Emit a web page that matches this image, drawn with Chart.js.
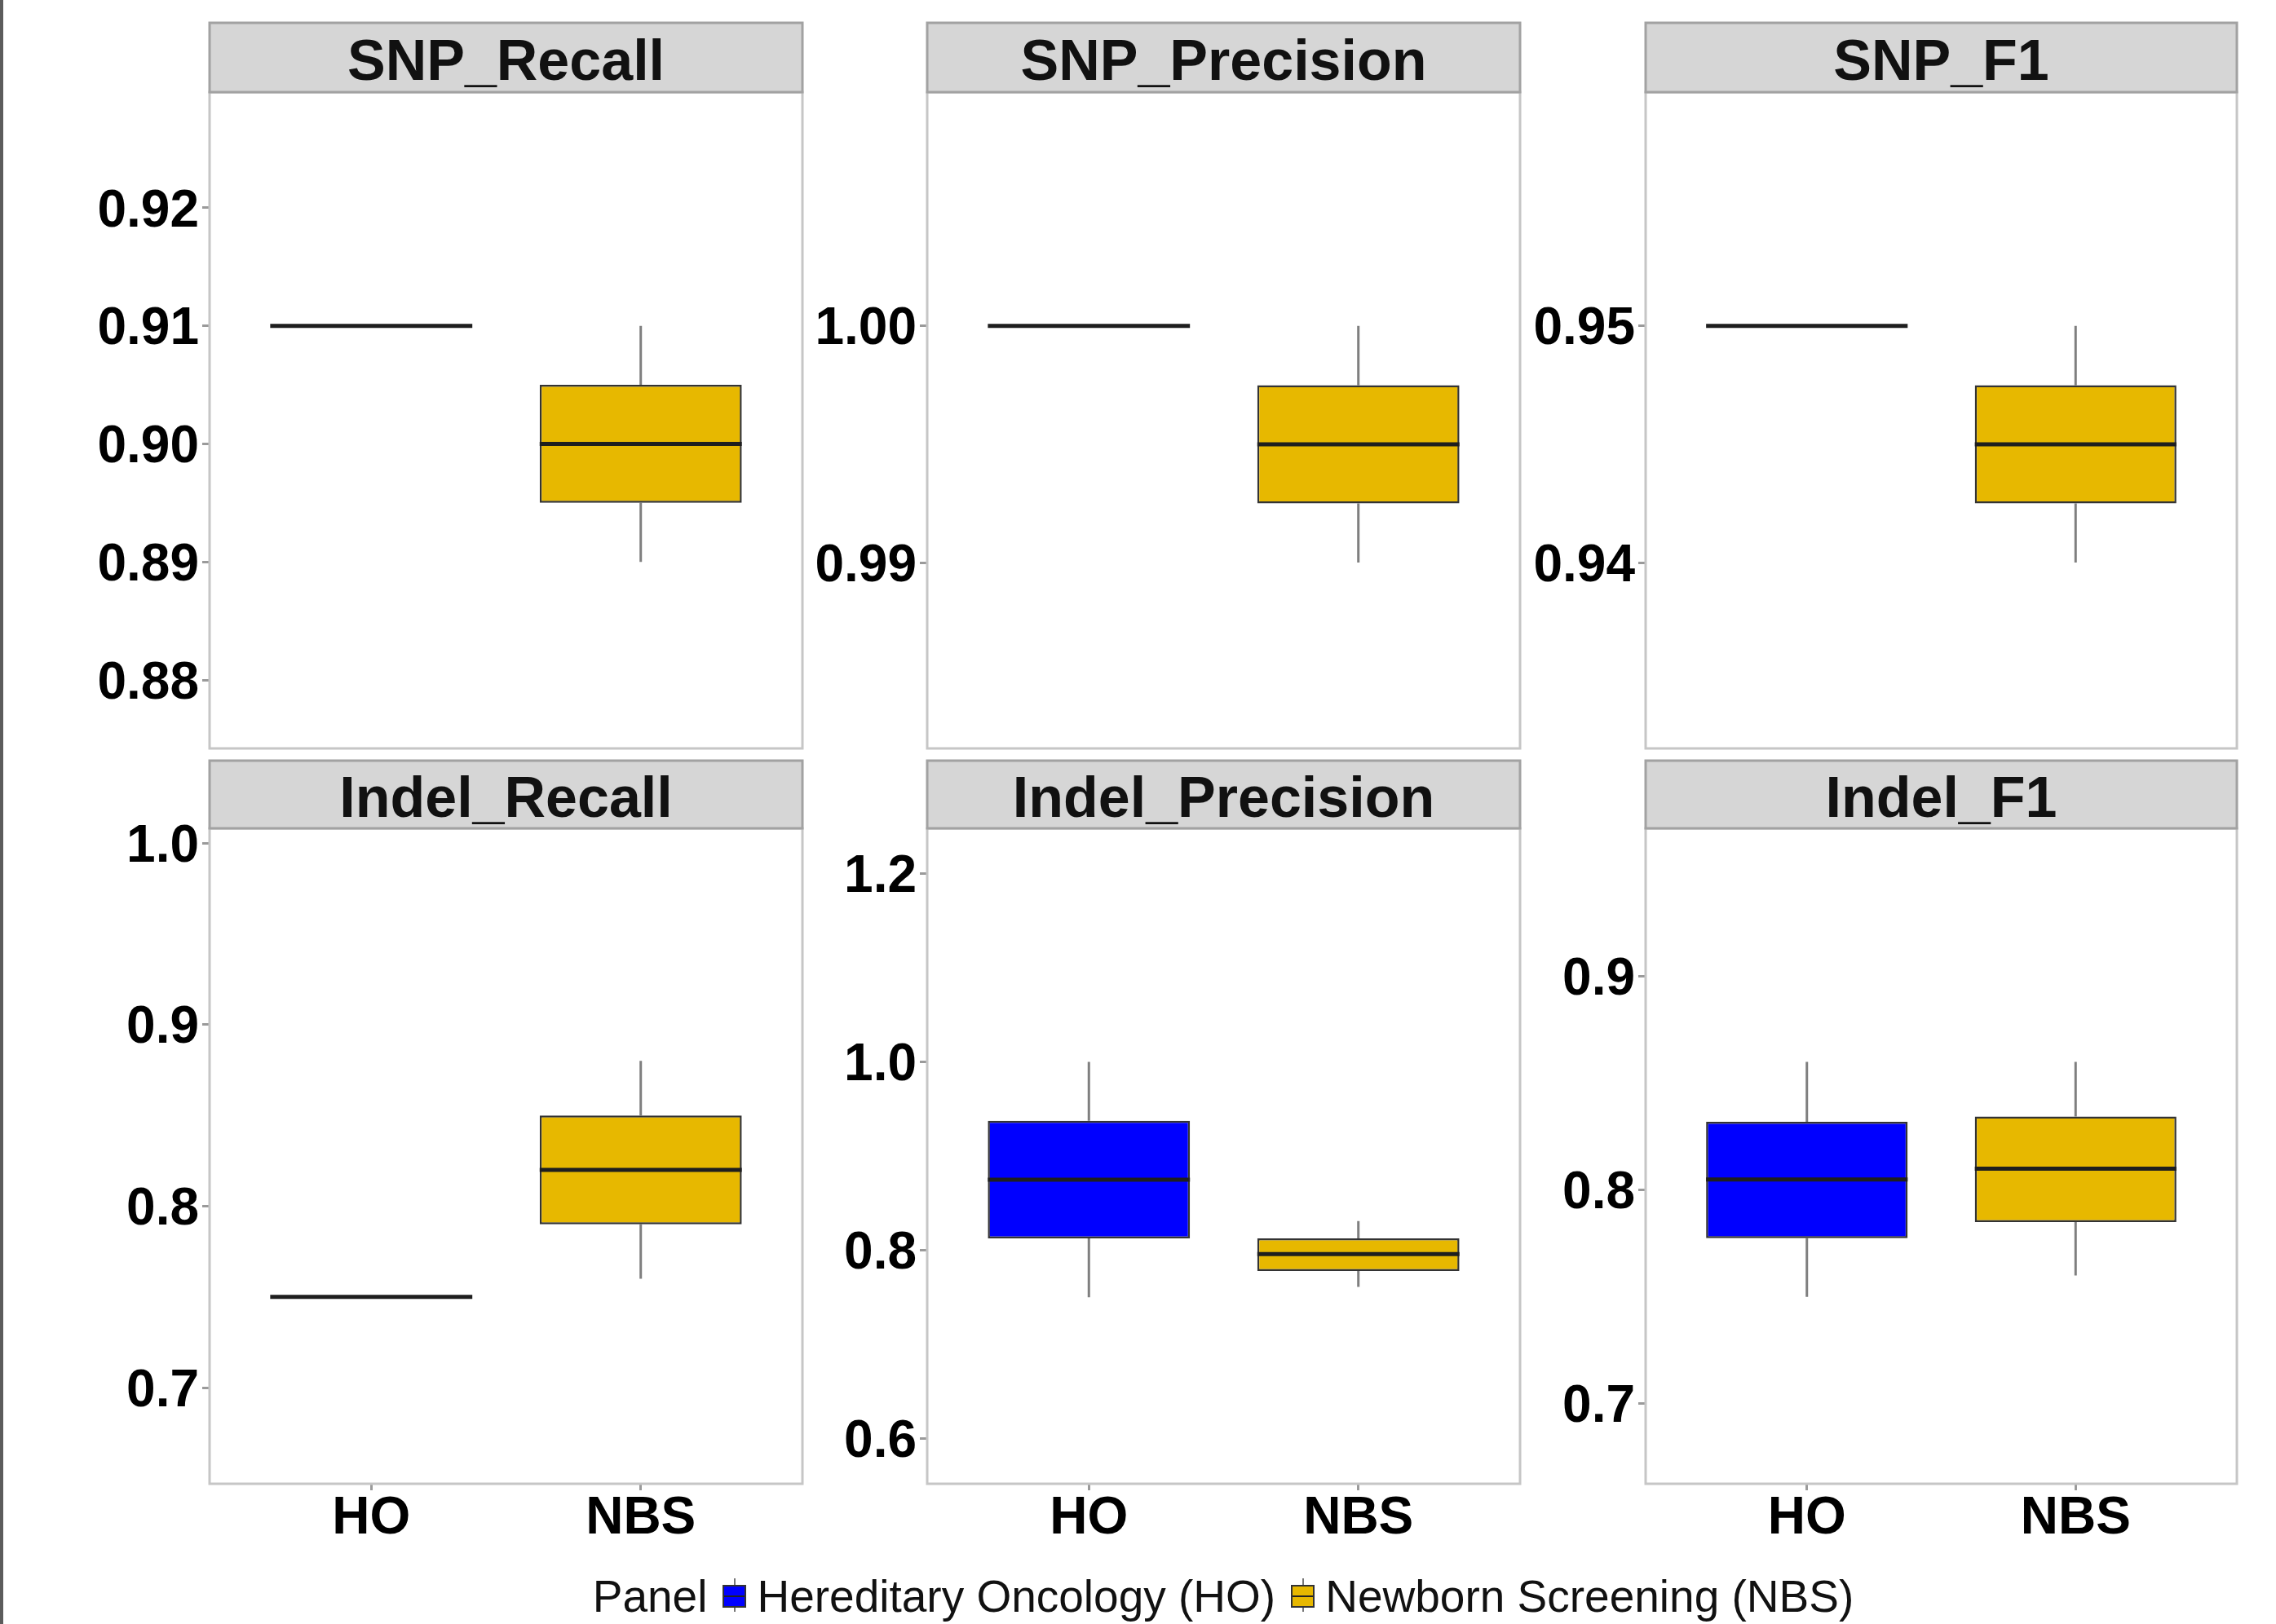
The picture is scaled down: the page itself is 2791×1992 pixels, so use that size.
<!DOCTYPE html>
<html>
<head>
<meta charset="utf-8">
<script src="https://cdn.jsdelivr.net/npm/chart.js@4.4.1/dist/chart.umd.min.js"></script>
<style>
  html, body { margin: 0; padding: 0; background: #fff; }
  body { width: 2791px; height: 1992px; position: relative; overflow: hidden; font-family: "Liberation Sans", Arial, sans-serif; }
  .edge { position: absolute; left: 0; top: 0; width: 4px; height: 1992px; background: #5c5c5c; }
  .panel { position: absolute; }
  .legend { position: absolute; left: 257px; width: 2486px; top: 1926px; height: 64px;
            display: flex; justify-content: center; align-items: center; font-size: 55px; color: #111; white-space: nowrap; }
  .key { position: relative; width: 29px; height: 28px; margin: 0 13px 0 19px; box-sizing: border-box; border: 2px solid #333; }
  .key::before, .key::after { content: ""; position: absolute; left: 12px; width: 2px; background: #777; }
  .key::before { top: -10px; height: 8px; }
  .key::after { bottom: -7px; height: 5px; }
  .key i { position: absolute; left: 0; right: 0; top: 11px; height: 2px; background: #222; }
</style>
</head>
<body>
<div class="edge"></div>
<div id="panels"></div>
<div class="legend">
  <span>Panel</span>
  <span class="key" style="background:#0000FF"><i></i></span>
  <span>Hereditary Oncology (HO)</span>
  <span class="key" style="background:#E7B800"><i></i></span>
  <span>Newborn Screening (NBS)</span>
</div>
<script>
const categories = ["HO", "NBS"];
const panelNames = ["SNP_Recall", "SNP_Precision", "SNP_F1", "Indel_Recall", "Indel_Precision", "Indel_F1"];

// five-number summaries, one entry per panel
const hoMin    = [0.91, 1.00, 0.95, 0.75, 0.75,   0.75];
const hoQ1     = [0.91, 1.00, 0.95, 0.75, 0.8125, 0.7775];
const hoMedian = [0.91, 1.00, 0.95, 0.75, 0.875,  0.805];
const hoQ3     = [0.91, 1.00, 0.95, 0.75, 0.9375, 0.832];
const hoMax    = [0.91, 1.00, 0.95, 0.75, 1.00,   0.86];

const nbsMin    = [0.89,  0.99,   0.94,   0.76, 0.761,  0.76];
const nbsQ1     = [0.895, 0.9925, 0.9425, 0.79, 0.778,  0.785];
const nbsMedian = [0.90,  0.995,  0.945,  0.82, 0.796,  0.81];
const nbsQ3     = [0.905, 0.9975, 0.9475, 0.85, 0.8125, 0.8345];
const nbsMax    = [0.91,  1.00,   0.95,   0.88, 0.831,  0.86];

// free y scales
const yMin = [0.8742, 0.98215, 0.93215, 0.647,  0.552, 0.6625];
const yMax = [0.9298, 1.00988, 0.95988, 1.0082, 1.248, 0.9694];
const yTickLabels = [
  ["0.88", "0.89", "0.90", "0.91", "0.92"],
  ["0.99", "1.00"],
  ["0.94", "0.95"],
  ["0.7", "0.8", "0.9", "1.0"],
  ["0.6", "0.8", "1.0", "1.2"],
  ["0.7", "0.8", "0.9"]
];

const fills = ["#0000FF", "#E7B800"];

// facet grid geometry
const YW = 150;
const colLeft = [257, 1137, 2018];
const colWidth = [727, 727, 725];
const rows = [
  { top: 28,  strip: 85, height: 805, xAxis: false },
  { top: 933, strip: 83, height: 804, xAxis: true }
];

Chart.defaults.font.family = "'Liberation Sans', Arial, sans-serif";

function facetPlugin(p) {
  const stats = [
    { min: hoMin[p], q1: hoQ1[p], med: hoMedian[p], q3: hoQ3[p], max: hoMax[p] },
    { min: nbsMin[p], q1: nbsQ1[p], med: nbsMedian[p], q3: nbsQ3[p], max: nbsMax[p] }
  ];
  return {
    id: "facet" + p,
    beforeDatasetsDraw(chart) {
      const { ctx } = chart;
      const y = chart.scales.y;
      const bars = chart.getDatasetMeta(0).data;
      ctx.save();
      ctx.strokeStyle = "#7f7f7f";
      ctx.lineWidth = 3;
      stats.forEach((s, i) => {
        const x = bars[i].x;
        ctx.beginPath();
        ctx.moveTo(x, y.getPixelForValue(s.max));
        ctx.lineTo(x, y.getPixelForValue(s.q3));
        ctx.moveTo(x, y.getPixelForValue(s.q1));
        ctx.lineTo(x, y.getPixelForValue(s.min));
        ctx.stroke();
      });
      ctx.restore();
    },
    afterDatasetsDraw(chart) {
      const { ctx, chartArea: a } = chart;
      const y = chart.scales.y;
      const bars = chart.getDatasetMeta(0).data;
      ctx.save();
      ctx.strokeStyle = "#1e1e1e";
      ctx.lineWidth = 5;
      stats.forEach((s, i) => {
        const b = bars[i];
        const py = y.getPixelForValue(s.med);
        ctx.beginPath();
        ctx.moveTo(b.x - b.width / 2, py);
        ctx.lineTo(b.x + b.width / 2, py);
        ctx.stroke();
      });
      // panel border
      ctx.strokeStyle = "#c6c6c6";
      ctx.lineWidth = 3;
      ctx.strokeRect(a.left, a.top, a.right - a.left, a.bottom - a.top);
      // strip
      ctx.fillStyle = "#d6d6d6";
      ctx.fillRect(a.left, 3, a.right - a.left, a.top - 3);
      ctx.strokeStyle = "#a2a2a2";
      ctx.strokeRect(a.left, 3, a.right - a.left, a.top - 3);
      ctx.fillStyle = "#111";
      ctx.font = "bold 70px 'Liberation Sans', Arial, sans-serif";
      ctx.textAlign = "center";
      ctx.textBaseline = "middle";
      ctx.fillText(panelNames[p], (a.left + a.right) / 2, (3 + a.top) / 2 + 8);
      ctx.restore();
    }
  };
}

const holder = document.getElementById("panels");

panelNames.forEach((name, p) => {
  const row = rows[Math.floor(p / 3)];
  const col = p % 3;
  const xh = row.xAxis ? 90 : 0;
  const w = YW + colWidth[col] + 6;
  const h = 3 + row.strip + row.height + (row.xAxis ? xh : 4);

  const div = document.createElement("div");
  div.className = "panel";
  div.style.left = (colLeft[col] - YW) + "px";
  div.style.top = (row.top - 3) + "px";
  const canvas = document.createElement("canvas");
  canvas.width = w;
  canvas.height = h;
  div.appendChild(canvas);
  holder.appendChild(div);

  const q1 = [hoQ1[p], nbsQ1[p]];
  const q3 = [hoQ3[p], nbsQ3[p]];

  new Chart(canvas, {
    type: "bar",
    data: {
      datasets: [{
        data: categories.map((c, i) => ({ x: i + 1, y: [q1[i], q3[i]] })),
        backgroundColor: fills,
        borderColor: "#333333",
        borderWidth: 2.5,
        borderSkipped: false,
        barPercentage: 0.75,
        categoryPercentage: 1
      }]
    },
    options: {
      responsive: false,
      animation: false,
      layout: { padding: { top: 3 + row.strip, right: 6, bottom: row.xAxis ? 0 : 4, left: 0 } },
      plugins: { legend: { display: false }, tooltip: { enabled: false } },
      scales: {
        x: {
          type: "linear",
          min: 0.4,
          max: 2.6,
          offset: false,
          afterBuildTicks: s => { s.ticks = categories.map((c, i) => ({ value: i + 1 })); },
          afterFit: s => { s.height = xh; s.paddingLeft = 0; s.paddingRight = 0; },
          ticks: {
            display: row.xAxis,
            autoSkip: false,
            maxRotation: 0,
            padding: 3,
            color: "#000",
            font: { size: 64, weight: "bold", lineHeight: 1 },
            callback: (v, i) => categories[i]
          },
          grid: { display: row.xAxis, offset: false, drawOnChartArea: false, tickLength: 8, color: "#9a9a9a", lineWidth: 3 },
          border: { display: false }
        },
        y: {
          min: yMin[p],
          max: yMax[p],
          afterBuildTicks: s => { s.ticks = yTickLabels[p].map(t => ({ value: Number(t) })); },
          afterFit: s => { s.width = YW; s.paddingTop = 0; s.paddingBottom = 0; },
          ticks: {
            autoSkip: false,
            padding: 4,
            labelOffset: 5,
            color: "#000",
            font: { size: 64, weight: "bold" },
            callback: (v, i) => yTickLabels[p][i]
          },
          grid: { drawOnChartArea: false, tickLength: 9, color: "#9a9a9a", lineWidth: 3 },
          border: { display: false }
        }
      }
    },
    plugins: [facetPlugin(p)]
  });
});
</script>
</body>
</html>
